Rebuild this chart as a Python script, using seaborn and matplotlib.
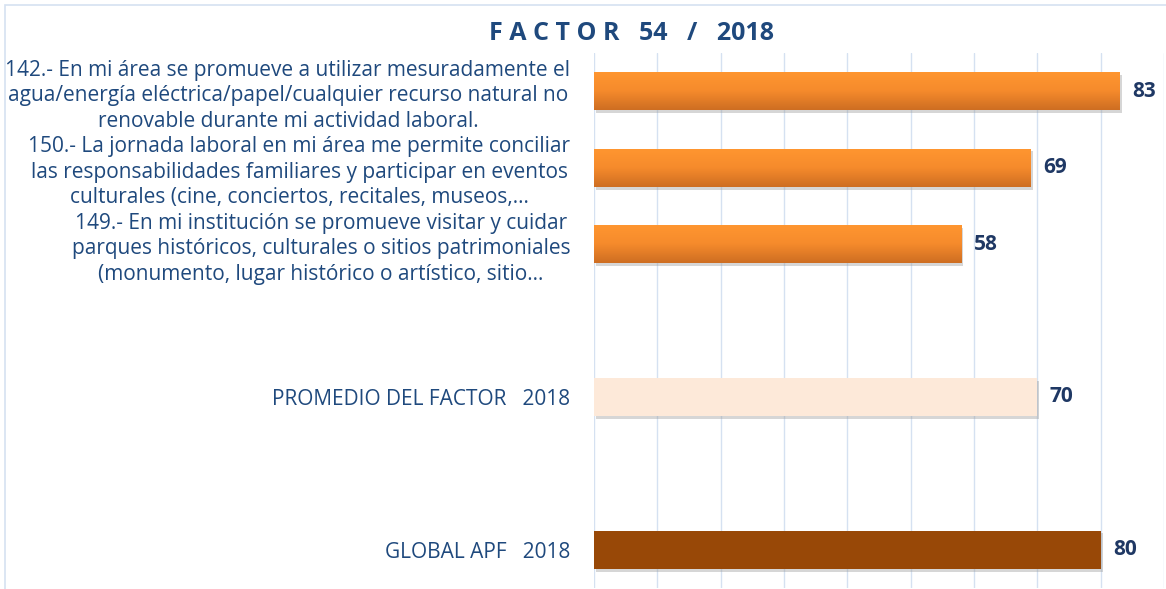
import matplotlib
matplotlib.use("Agg")
import matplotlib.pyplot as plt
import matplotlib.patheffects as pe
from matplotlib.patches import Rectangle
from matplotlib.colors import LinearSegmentedColormap
import numpy as np
import seaborn as sns
import pandas as pd

categories = [
    "142.- En mi área se promueve a utilizar mesuradamente el\nagua/energía eléctrica/papel/cualquier recurso natural no\nrenovable durante mi actividad laboral.",
    "150.- La jornada laboral en mi área me permite conciliar\nlas responsabilidades familiares y participar en eventos\nculturales (cine, conciertos, recitales, museos,…",
    "149.- En mi institución se promueve visitar y cuidar\nparques históricos, culturales o sitios patrimoniales\n(monumento, lugar histórico o artístico, sitio…",
    "PROMEDIO DEL FACTOR   2018",
    "GLOBAL APF   2018",
]
values = [83, 69, 58, 70, 80]
order = [categories[0], categories[1], categories[2], " ", categories[3], "  ", categories[4]]
bar_colors = ["#F4882A", "#F4882A", "#F4882A", "#FDE9D9", "#984807"]
title = "F A C T O R   54   /   2018"

sns.set_theme(style="white")
plt.rcParams["font.family"] = ["Open Sans", "DejaVu Sans"]

df = pd.DataFrame({"cat": categories, "val": values})
palette = dict(zip(categories, bar_colors))

fig = plt.figure(figsize=(11.66, 5.89), dpi=100)
ax = fig.add_axes([594 / 1166, 1 / 589, (1164 - 594) / 1166, (588 - 53) / 589])

sns.barplot(data=df, x="val", y="cat", hue="cat", palette=palette, order=order,
            hue_order=categories, width=0.5, legend=False, ax=ax, saturation=1,
            edgecolor="none", zorder=3)

shadow = [pe.SimplePatchShadow(offset=(1.5, -2), shadow_rgbFace="#999999", alpha=0.4), pe.Normal()]
grad_cmap = LinearSegmentedColormap.from_list("og", ["#FF9630", "#F68B2C", "#CE6E22"])
grad = np.linspace(0, 1, 64).reshape(-1, 1)
for p in ax.patches:
    p.set_path_effects(shadow)
    fc = matplotlib.colors.to_hex(p.get_facecolor())
    if fc.lower() == "#f4882a":
        x0, y0 = p.get_x(), p.get_y()
        w, h = p.get_width(), p.get_height()
        im = ax.imshow(grad, cmap=grad_cmap, aspect="auto",
                       extent=(x0, x0 + w, y0 + h, y0), origin="upper", zorder=3.5)
        im.set_clip_path(p)

ax.set_xlim(0, 90)
ax.set_ylim(6.5, -0.5)
ax.set_xticks(range(0, 91, 10))
ax.set_xticklabels([])
ax.tick_params(axis="x", length=0)
ax.tick_params(axis="y", length=0, pad=17)
ax.grid(axis="x", color="#D5E1F1", linewidth=1, zorder=0)
ax.grid(axis="y", visible=False)
for s in ax.spines.values():
    s.set_visible(False)
ax.set_xlabel("")
ax.set_ylabel("")

for t in ax.get_yticklabels():
    t.set_fontsize(15)
    t.set_color("#1F497D")
    t.set_multialignment("center")
    t.set_linespacing(1.27)

for c in ax.containers:
    ax.bar_label(c, fmt="%d", padding=9, fontsize=15, fontweight="bold", color="#1F3864")

fig.text(631 / 1166, 1 - 34 / 589, title, ha="center", va="center", fontsize=18,
         fontweight="bold", color="#1F497D")

fig.patches.append(Rectangle((5 / 1166, -0.01), 1.2, 1 - 5 / 589 + 0.01, transform=fig.transFigure,
                             fill=False, edgecolor="#D5E1F1", linewidth=1.2))

fig.savefig("out.png", dpi=100)
